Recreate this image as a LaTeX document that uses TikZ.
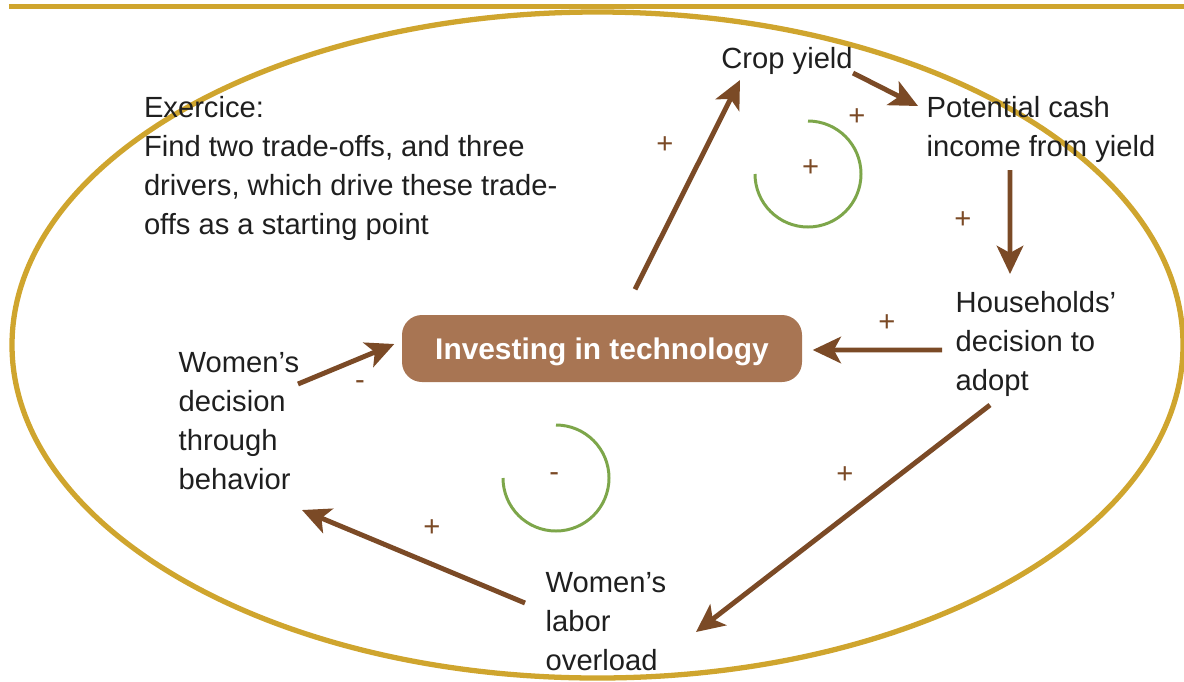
\documentclass[tikz,border=0pt]{standalone}
\usepackage{fontspec}
\setmainfont{Liberation Sans}
\usepackage{tikz}
\usetikzlibrary{arrows.meta,calc,shapes}

\definecolor{gold}{RGB}{207,165,46}
\definecolor{arrowbrown}{RGB}{123,74,38}
\definecolor{boxbrown}{RGB}{168,117,83}
\definecolor{loopgreen}{RGB}{125,166,74}

\begin{document}
\begin{tikzpicture}
[txt/.style={anchor=north west, inner sep=0pt, align=left, font=\fontsize{8.3}{11.1}\selectfont, text=black!88},
 sgn/.style={inner sep=0pt, font=\fontsize{8.3}{11.1}\selectfont, text=arrowbrown},
 link/.style={draw=arrowbrown, line width=1.4pt, -{Stealth[length=8pt,width=7.5pt,inset=2pt]}},
 loopmark/.style={draw=loopgreen, line width=0.85pt},
 round/.style={rounded corners=2mm, fill=boxbrown, minimum width=4cm, minimum height=0.67cm, inner sep=0pt, text depth=0pt, text=white, font=\fontsize{8.5}{11.1}\selectfont\bfseries}]
    \useasboundingbox (0,0) rectangle (11.84,-6.81);
    \draw[gold, line width=1.45pt] (0.09,-0.065) -- (11.84,-0.065);
    \draw[gold, line width=1.5pt] (5.975,-3.45) ellipse [x radius=5.855, y radius=3.33];
    % nodes
    \node[round] (invest) at (6.02,-3.485) {Investing in technology};
    \node[txt] (ex) at (1.433,-0.955) {Exercice:\\Find two trade-offs, and three\\drivers, which drive these trade-\\offs as a starting point};
    \node[txt] (crop) at (7.207,-0.467) {Crop yield};
    \node[txt] (cash) at (9.26,-0.957) {Potential cash\\income from yield};
    \node[txt] (house) at (9.55,-2.91) {Households’\\decision to\\adopt};
    \node[txt] (wdec) at (1.78,-3.52) {Women’s\\decision\\through\\behavior};
    \node[txt] (wlab) at (5.45,-5.72) {Women’s\\labor\\overload};
    % links
    \path[link] ($(invest.north)+(0.33,0.25)$) -- ($(crop.north west)+(0.193,-0.333)$);
    \path[link] ($(crop.north west)+(1.323,-0.263)$) -- ($(cash.north west)+(-0.08,-0.103)$);
    \path[link] ($(cash.north west)+(0.84,-0.743)$) -- ($(house.north west)+(0.55,0.17)$);
    \path[link] ($(house.north west)+(-0.13,-0.59)$) -- ($(invest.east)+(0.10,-0.015)$);
    \path[link] ($(house.north west)+(0.35,-1.14)$) -- ($(wlab.north west)+(1.51,-0.60)$);
    \path[link] ($(wlab.north west)+(-0.20,-0.31)$) -- ($(wdec.north west)+(1.24,-1.58)$);
    \path[link] ($(wdec.north west)+(1.20,-0.32)$) -- ($(invest.west)+(-0.07,0.045)$);
    % signs
    \node[sgn] (s1) at (6.65,-1.45) {+};
    \node[sgn] (s2) at (8.57,-1.17) {+};
    \node[sgn] (s3) at (9.63,-2.20) {+};
    \node[sgn] (s4) at (8.87,-3.23) {+};
    \node[sgn] (s5) at (8.45,-4.75) {+};
    \node[sgn] (s6) at (4.32,-5.28) {+};
    \node[sgn] (s7) at (3.60,-3.85) {-};
    % loops
    \draw[loopmark] (8.08,-1.21) arc[start angle=90, end angle=-180, radius=0.53];
    \node[sgn] (r1) at (8.107,-1.68) {+};
    \draw[loopmark] (5.56,-4.25) arc[start angle=90, end angle=-180, radius=0.53];
    \node[sgn] (r2) at (5.543,-4.77) {-};
\end{tikzpicture}
\end{document}
